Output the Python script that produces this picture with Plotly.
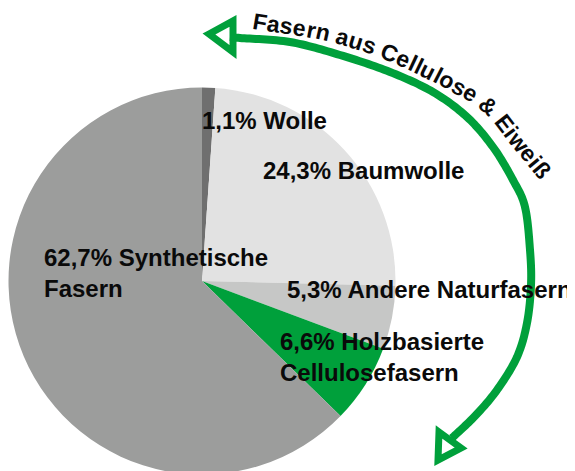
import math
import plotly.graph_objects as go

W, H = 575, 471
OFF = 8  # page body margin offset

# ---- data ----
names = ["Wolle", "Baumwolle", "Andere Naturfasern", "Holzbasierte Cellulosefasern", "Synthetische Fasern"]
values = [1.1, 24.3, 5.3, 6.6, 62.7]
label_names = ["Wolle", "Baumwolle", "Andere Naturfasern", "Holzbasierte<br>Cellulosefasern", "Synthetische<br>Fasern"]
colors = ["#6f6f6f", "#e2e2e2", "#c6c7c6", "#00a03b", "#9c9d9c"]
arc_text = "Fasern aus Cellulose & Eiweiß"

# label anchor positions in pixels (left x, vertical centre y)
label_pos = [(200, 121), (261, 171), (285, 289), (278, 357), (42, 273)]

GREEN = "#00a03b"
FONT = "Liberation Sans, Arial, Helvetica, sans-serif"


def px(x, y):
    return (x - OFF) / W, 1 - (y - OFF) / H


# pie: centre (202,281), radius 193.5 in screen pixels
cx, cy, R = 202 - OFF, 281 - OFF, 193.5
fig = go.Figure()
fig.add_trace(go.Pie(
    labels=names, values=values, sort=False, direction="clockwise", rotation=0,
    marker=dict(colors=colors, line=dict(width=0)),
    textinfo="none", hoverinfo="label+percent", showlegend=False,
    domain=dict(x=[(cx - R) / W, (cx + R) / W], y=[1 - (cy + R) / H, 1 - (cy - R) / H]),
))

annotations = []
for v, nm, (lx, ly) in zip(values, label_names, label_pos):
    t = ("%.1f" % v).replace(".", ",") + "% " + nm
    x, y = px(lx, ly)
    annotations.append(dict(
        text="<b>" + t + "</b>", x=x, y=y, xref="paper", yref="paper",
        xanchor="left", yanchor="middle", align="left", showarrow=False,
        font=dict(family=FONT, size=24, color="#0a0a0a"),
    ))


# ---- curve helpers ----
def catmull(pts, n=16):
    out = []
    for i in range(len(pts) - 1):
        p0 = pts[i - 1] if i > 0 else pts[i]
        p1 = pts[i]
        p2 = pts[i + 1]
        p3 = pts[i + 2] if i + 2 < len(pts) else pts[i + 1]
        for k in range(n):
            t = k / n
            t2, t3 = t * t, t * t * t
            x = 0.5 * ((2 * p1[0]) + (-p0[0] + p2[0]) * t + (2 * p0[0] - 5 * p1[0] + 4 * p2[0] - p3[0]) * t2 + (-p0[0] + 3 * p1[0] - 3 * p2[0] + p3[0]) * t3)
            y = 0.5 * ((2 * p1[1]) + (-p0[1] + p2[1]) * t + (2 * p0[1] - 5 * p1[1] + 4 * p2[1] - p3[1]) * t2 + (-p0[1] + 3 * p1[1] - 3 * p2[1] + p3[1]) * t3)
            out.append((x, y))
    out.append(pts[-1])
    return out


def path_str(pts, close=False):
    s = ""
    for i, (x, y) in enumerate(pts):
        X, Y = px(x, y)
        s += ("M" if i == 0 else "L") + "%.5f,%.5f " % (X, Y)
    if close:
        s += "Z"
    return s


# arrow arc
arc_pts = [(230, 37), (240, 38), (290, 42), (340, 55), (390, 72), (433, 92), (467, 117), (493, 147),
           (513, 180), (525, 207), (530, 250), (531, 285), (527, 323), (517, 357), (497, 390),
           (475, 416), (452, 438)]
arc = catmull(arc_pts)
shapes = [dict(type="path", xref="paper", yref="paper", path=path_str(arc),
               line=dict(color=GREEN, width=8))]
head1 = [(209, 34), (233, 21), (233, 52)]
head2 = [(439, 432), (461, 448), (438, 460)]
for hd in (head1, head2):
    shapes.append(dict(type="path", xref="paper", yref="paper", path=path_str(hd, close=True),
                       line=dict(color=GREEN, width=7), fillcolor="rgba(0,0,0,0)"))

# text along the curve (letter centres)
tpts = [(260, 22), (325, 33), (390, 53), (456, 85), (491, 108), (518, 141), (542, 170)]
tcurve = catmull(tpts, 40)
cum = [0.0]
for i in range(1, len(tcurve)):
    cum.append(cum[-1] + math.dist(tcurve[i - 1], tcurve[i]))
Ltot = cum[-1]

wid = {"F": 611, "a": 556, "s": 556, "e": 556, "r": 389, "n": 611, " ": 278, "u": 611, "C": 722,
       "l": 278, "o": 611, "&": 722, "E": 667, "i": 278, "w": 778, "ß": 611}
fs = 23
adv = [wid.get(c, 556) * fs / 1000 for c in arc_text]
centres = []
acc = 0
for a in adv:
    centres.append(acc + a / 2)
    acc += a
scale = Ltot / (centres[-1] - centres[0])


def point_at(s):
    s = max(0, min(Ltot, s))
    for i in range(1, len(cum)):
        if cum[i] >= s:
            seg = cum[i] - cum[i - 1]
            t = (s - cum[i - 1]) / seg if seg > 0 else 0
            x0, y0 = tcurve[i - 1]
            x1, y1 = tcurve[i]
            ang = math.degrees(math.atan2(y1 - y0, x1 - x0))
            return x0 + (x1 - x0) * t, y0 + (y1 - y0) * t, ang
    x, y = tcurve[-1]
    return x, y, 0


for ch, c in zip(arc_text, centres):
    if ch == " ":
        continue
    s = (c - centres[0]) * scale
    x, y, ang = point_at(s)
    X, Y = px(x, y)
    annotations.append(dict(
        text="<b>" + ch + "</b>", x=X, y=Y, xref="paper", yref="paper",
        xanchor="center", yanchor="middle", showarrow=False, textangle=ang,
        font=dict(family=FONT, size=fs, color="#0a0a0a"),
    ))

fig.update_layout(
    width=W, height=H, margin=dict(l=0, r=0, t=0, b=0),
    paper_bgcolor="white", plot_bgcolor="white",
    annotations=annotations, shapes=shapes, showlegend=False,
)
fig.write_html("out.html")
